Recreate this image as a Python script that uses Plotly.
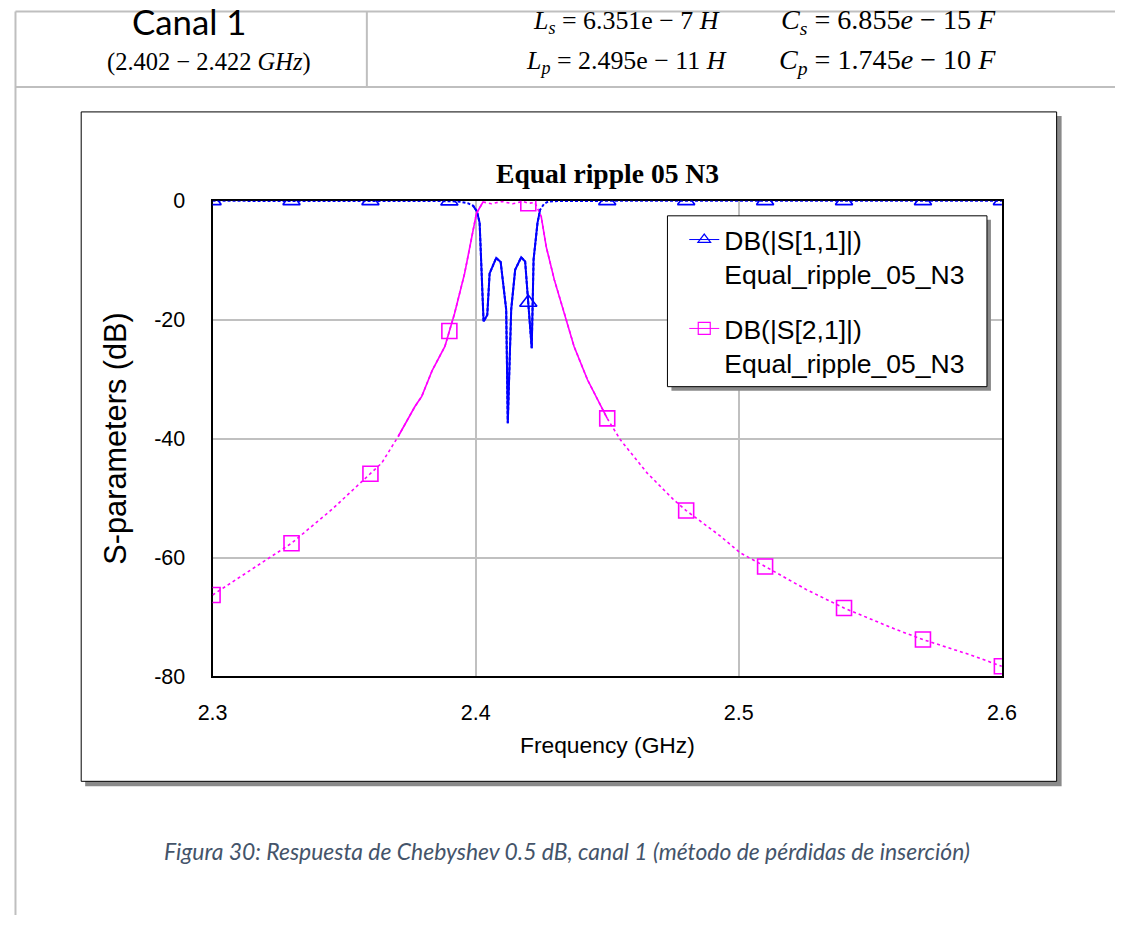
import plotly.graph_objects as go

W, H = 1130, 928

# Simulated response of the 3rd-order 0.5 dB Chebyshev filter (channel 1)
freq_s11 = [2.300, 2.330, 2.360, 2.390, 2.3940, 2.3970, 2.3990, 2.4005, 2.4015,
            2.4030, 2.4044, 2.4053, 2.4078, 2.4095, 2.4116, 2.4122, 2.4135, 2.4150,
            2.4173, 2.4188, 2.4198, 2.4200, 2.4213, 2.4220, 2.4235, 2.4245, 2.4260,
            2.4275, 2.4300, 2.450, 2.480, 2.510, 2.540, 2.570, 2.600]
s11_db = [0.0, 0.0, 0.0, -0.05, -0.15, -0.4, -0.8, -1.8, -3.7,
          -20.3, -19.2, -12.2, -9.6, -10.3, -18.3, -37.4, -18.3, -11.6,
          -9.5, -10.2, -16.1, -17.1, -24.8, -9.9, -3.7, -1.5, -0.5,
          -0.15, -0.05, 0.0, 0.0, 0.0, 0.0, 0.0, 0.0]

freq_s21 = [2.300, 2.3126, 2.330, 2.3454, 2.3542, 2.360, 2.3643, 2.3706, 2.3769,
            2.3795, 2.3835, 2.3883, 2.390, 2.3920, 2.3958, 2.3984, 2.4003, 2.4028,
            2.4060, 2.4100, 2.4140, 2.4180, 2.420, 2.4225, 2.4249, 2.4268, 2.4299,
            2.4337, 2.4374, 2.4425, 2.450, 2.4550, 2.4652, 2.4753, 2.480, 2.4930,
            2.5005, 2.510, 2.5257, 2.540, 2.5597, 2.570, 2.5875, 2.600]
s21_db = [-66.3, -62.6, -57.6, -51.9, -48.3, -45.9, -44.1, -39.6, -34.6,
          -32.9, -28.5, -24.5, -21.9, -18.9, -12.2, -6.6, -2.1, -0.2,
          -0.5, -0.1, -0.5, -0.1, -0.4, -0.3, -2.6, -7.7, -13.3,
          -18.9, -24.5, -30.1, -36.6, -40.2, -45.8, -50.3, -52.1, -56.4,
          -59.2, -61.5, -65.4, -68.5, -72.1, -73.8, -76.3, -78.3]

marker_freq = [2.30, 2.33, 2.36, 2.39, 2.42, 2.45, 2.48, 2.51, 2.54, 2.57, 2.60]

x_ticks = [2.3, 2.4, 2.5, 2.6]
x_tick_text = ["2.3", "2.4", "2.5", "2.6"]
y_ticks = [0, -20, -40, -60, -80]
y_tick_text = ["0", "-20", "-40", "-60", "-80"]

series_names = ["DB(|S[1,1]|)<br>Equal_ripple_05_N3",
                "DB(|S[2,1]|)<br>Equal_ripple_05_N3"]

BLUE = "#0000ff"
MAGENTA = "#ff00ff"
GRID = "#c0c0c0"
TABLE_LINE = "#bfbfbf"

# page layout: design coordinates (pixels) are mapped into the figure box
SX, SY = 0.978, 0.975
OX, OY = 11.5, 11.0
FS = 1 / 0.977  # font scale matching the box mapping


def X(x):
    return max(0.5, (x - OX) / SX)


def Y(y):
    return max(0.5, (y - OY) / SY)


def px(x):
    return min(1.0, X(x) / W)


def py(y):
    return max(0.0, 1 - Y(y) / H)


def fs(size):
    return round(size * FS, 1)


def in_ranges(freqs, values, ranges):
    out = []
    for f, v in zip(freqs, values):
        out.append(v if any(a <= f <= b for a, b in ranges) else None)
    return out


s11_at = dict(zip(freq_s11, s11_db))
s21_at = dict(zip(freq_s21, s21_db))

fig = go.Figure()

# S11: dotted curve, steep skirts drawn solid
fig.add_trace(go.Scatter(x=freq_s11, y=s11_db, mode="lines",
                         line=dict(color=BLUE, width=2, dash="3px,2px"),
                         showlegend=False, hoverinfo="skip"))
fig.add_trace(go.Scatter(x=freq_s11,
                         y=in_ranges(freq_s11, s11_db, [(2.3990, 2.4245)]),
                         mode="lines", line=dict(color=BLUE, width=2),
                         showlegend=False, hoverinfo="skip"))
fig.add_trace(go.Scatter(x=marker_freq, y=[s11_at[f] for f in marker_freq],
                         mode="markers",
                         marker=dict(symbol="triangle-up-open", size=15, color=BLUE,
                                     line=dict(width=1.6, color=BLUE)),
                         showlegend=False))

# S21: dotted curve, steep skirts drawn solid
fig.add_trace(go.Scatter(x=freq_s21, y=s21_db, mode="lines",
                         line=dict(color=MAGENTA, width=1.6, dash="3px,3px"),
                         showlegend=False, hoverinfo="skip"))
fig.add_trace(go.Scatter(x=freq_s21,
                         y=in_ranges(freq_s21, s21_db,
                                     [(2.3706, 2.4028), (2.4249, 2.4520)]),
                         mode="lines", line=dict(color=MAGENTA, width=1.6),
                         showlegend=False, hoverinfo="skip"))
fig.add_trace(go.Scatter(x=marker_freq, y=[s21_at[f] for f in marker_freq],
                         mode="markers",
                         marker=dict(symbol="square-open", size=15, color=MAGENTA,
                                     line=dict(width=1.6, color=MAGENTA)),
                         showlegend=False))

# Legend entries
fig.add_trace(go.Scatter(x=[None], y=[None], mode="lines+markers", name=series_names[0],
                         legendgroup="s11",
                         line=dict(color=BLUE, width=1),
                         marker=dict(symbol="triangle-up-open", size=11, color=BLUE,
                                     line=dict(width=1.2, color=BLUE))))
fig.add_trace(go.Scatter(x=[None], y=[None], mode="lines+markers", name=series_names[1],
                         legendgroup="s21",
                         line=dict(color=MAGENTA, width=1),
                         marker=dict(symbol="square-open", size=12, color=MAGENTA,
                                     line=dict(width=1.2, color=MAGENTA))))

sans = "Liberation Sans, Arial, sans-serif"
serif = "Liberation Serif, Times New Roman, serif"
tick_font = dict(family=sans, size=fs(21), color="black")


def hline(x0, x1, y, color, width):
    return dict(type="line", xref="paper", yref="paper", x0=px(x0), x1=px(x1),
                y0=py(y), y1=py(y), line=dict(color=color, width=width))


def vline(x, y0, y1, color, width):
    return dict(type="line", xref="paper", yref="paper", x0=px(x), x1=px(x),
                y0=py(y0), y1=py(y1), line=dict(color=color, width=width))


def box(x0, y0, x1, y1, layer, fill, line):
    return dict(type="rect", xref="paper", yref="paper", layer=layer,
                x0=px(x0), x1=px(x1), y0=py(y1), y1=py(y0),
                fillcolor=fill, line=line)


shapes = [
    # table rules
    hline(5, 1130, 2, TABLE_LINE, 2),
    vline(5, 2, 928, TABLE_LINE, 2),
    vline(365, 2, 87, TABLE_LINE, 2),
    hline(5, 1130, 87, TABLE_LINE, 2),
    # chart frame with drop shadow
    box(82, 116, 1063, 787, "below", "#8a8a8a", dict(width=0)),
    box(78, 112, 1058, 782, "below", "white", dict(color="black", width=1)),
    # legend box with drop shadow
    box(671, 220, 992, 391, "above", "#8a8a8a", dict(width=0)),
    box(667, 216, 988, 387, "above", "white", dict(color="black", width=1)),
]

annotations = [
    dict(text="Canal 1", x=187, y=22, font=dict(family="Lato", size=fs(34))),
    dict(text="(2.402 − 2.422 <i>GHz</i>)", x=206, y=62,
         font=dict(family=serif, size=fs(23.9))),
    dict(text="<i>L</i><sub><i>s</i></sub> = 6.351e − 7 <i>H</i>", x=626, y=22,
         font=dict(family=serif, size=fs(25.3))),
    dict(text="<i>C</i><sub><i>s</i></sub> = 6.855<i>e</i> − 15 <i>F</i>", x=889, y=22,
         font=dict(family=serif, size=fs(27.5))),
    dict(text="<i>L</i><sub><i>p</i></sub> = 2.495e − 11 <i>H</i>", x=626, y=62,
         font=dict(family=serif, size=fs(25.3))),
    dict(text="<i>C</i><sub><i>p</i></sub> = 1.745<i>e</i> − 10 <i>F</i>", x=888, y=62,
         font=dict(family=serif, size=fs(27.5))),
    dict(text="<b>Equal ripple 05 N3</b>", x=607, y=174,
         font=dict(family=serif, size=fs(27))),
    dict(text="Frequency (GHz)", x=607, y=746,
         font=dict(family=sans, size=fs(22.3))),
    dict(text="S-parameters (dB)", x=113, y=439, textangle=-90,
         font=dict(family=sans, size=fs(30))),
    dict(text="<i>Figura 30: Respuesta de Chebyshev 0.5 dB, canal 1 (método de pérdidas de inserción)</i>",
         x=566, y=852, font=dict(family="Lato", size=fs(22.35), color="#44546a")),
]
for a in annotations:
    a["x"] = px(a["x"])
    a["y"] = py(a["y"])
    a.update(xref="paper", yref="paper", showarrow=False, xanchor="center", yanchor="middle")
    a["font"].setdefault("color", "black")

fig.update_layout(
    width=W, height=H, autosize=False,
    margin=dict(l=0, r=0, t=0, b=0, pad=0),
    paper_bgcolor="white", plot_bgcolor="white",
    shapes=shapes, annotations=annotations,
    showlegend=True,
    legend=dict(x=px(723) - 40 / W, y=py(216), xanchor="left", yanchor="top",
                bgcolor="rgba(0,0,0,0)", borderwidth=0,
                font=dict(family=sans, size=26.5, color="black"),
                valign="top", tracegroupgap=17, traceorder="grouped",
                itemclick=False, itemdoubleclick=False),
    xaxis=dict(domain=[px(210), px(1003)], range=[2.3, 2.6],
               tickvals=x_ticks, ticktext=x_tick_text, tickfont=tick_font,
               showgrid=True, gridcolor=GRID, gridwidth=2, zeroline=False,
               showline=True, linecolor="black", linewidth=2, mirror=True,
               ticks="", ticklabelstandoff=16, layer="below traces"),
    yaxis=dict(domain=[py(677), py(201)], range=[-80, 0],
               tickvals=y_ticks, ticktext=y_tick_text, tickfont=tick_font,
               showgrid=True, gridcolor=GRID, gridwidth=2, zeroline=False,
               showline=True, linecolor="black", linewidth=2, mirror=True,
               ticks="", ticklabelstandoff=21, layer="below traces"),
)

fig.write_html("out.html")
